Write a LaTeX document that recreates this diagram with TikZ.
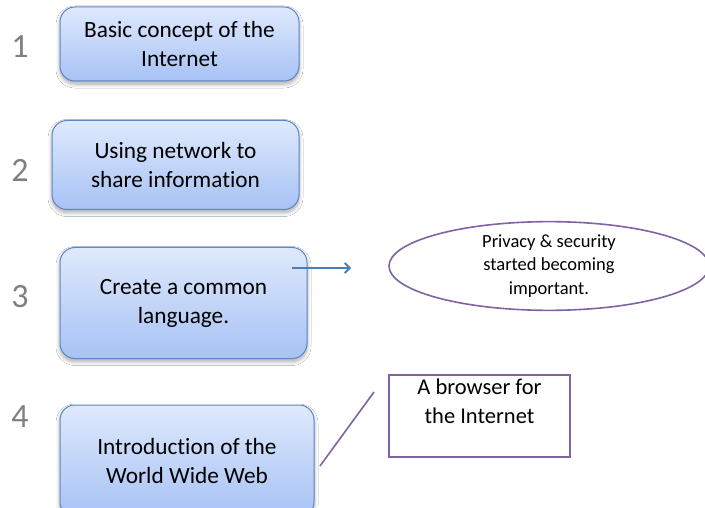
\documentclass[tikz,border=0pt]{standalone}
\usepackage{fontspec}
\setmainfont[RawFeature=-liga]{Carlito}
\usetikzlibrary{shadows.blur,arrows.meta,shapes.geometric}
\definecolor{boxborder}{HTML}{5A87C6}
\definecolor{boxtop}{HTML}{DFE9FC}
\definecolor{boxbot}{HTML}{A7C2F5}
\definecolor{purp}{HTML}{8064A2}
\definecolor{arrowblue}{HTML}{4A7EBB}
\definecolor{numgray}{HTML}{808080}
\tikzset{
  stepbox/.style={draw=boxborder, line width=1pt, rounded corners=15pt,
    top color=boxtop, bottom color=boxbot, align=center,
    font=\fontsize{23.3}{29}\selectfont, inner sep=0pt,
    blur shadow={shadow xshift=0pt, shadow yshift=-3pt, shadow blur radius=4pt, shadow blur steps=8, shadow opacity=35}},
  num/.style={text=numgray, font=\fontsize{34}{40}\selectfont, inner sep=0pt},
  note/.style={draw=purp, line width=1.6pt, fill=white, align=center, inner sep=0pt}
}
\begin{document}
\begin{tikzpicture}[x=1pt,y=-1pt]
\useasboundingbox (0,0) rectangle (705,508);
\clip (0,0) rectangle (705,508);
\fill[white] (0,0) rectangle (705,508);
\node[num] (n1) at (20,47) {1};
\node[num] (n2) at (20,170) {2};
\node[num] (n3) at (20,297) {3};
\node[num] (n4) at (20,417) {4};
\node[stepbox, minimum width=239pt, minimum height=74pt] (b1) at (179.5,44) {Basic concept of the\\Internet};
\node[stepbox, minimum width=247pt, minimum height=89pt] (b2) at (175.5,165) {Using network to\\share information};
\node[stepbox, minimum width=247pt, minimum height=111pt] (b3) at (183.5,303) {Create a common\\language.};
\node[stepbox, minimum width=254pt, minimum height=112pt] (b4) at (187,461) {Introduction of the\\World Wide Web};
\node[note, ellipse, minimum width=320pt, minimum height=88pt, font=\fontsize{18.5}{23.5}\selectfont] (e) at (549,266) {Privacy \& security\\started becoming\\important.};
\node[note, rectangle, minimum width=181pt, minimum height=82pt, font=\fontsize{22.5}{29}\selectfont] (r) at (479.5,416) {A browser for\\the Internet\\\mbox{}};
\coordinate (a1) at (292,268);
\coordinate (a2) at (351,268);
\draw[arrowblue, line width=1.8pt, -{Straight Barb[length=5pt,width=10pt]}] (a1) -- (a2);
\coordinate (l1) at (320,466);
\coordinate (l2) at (374,392);
\draw[purp, line width=1.6pt] (l1) -- (l2);
\end{tikzpicture}
\end{document}
